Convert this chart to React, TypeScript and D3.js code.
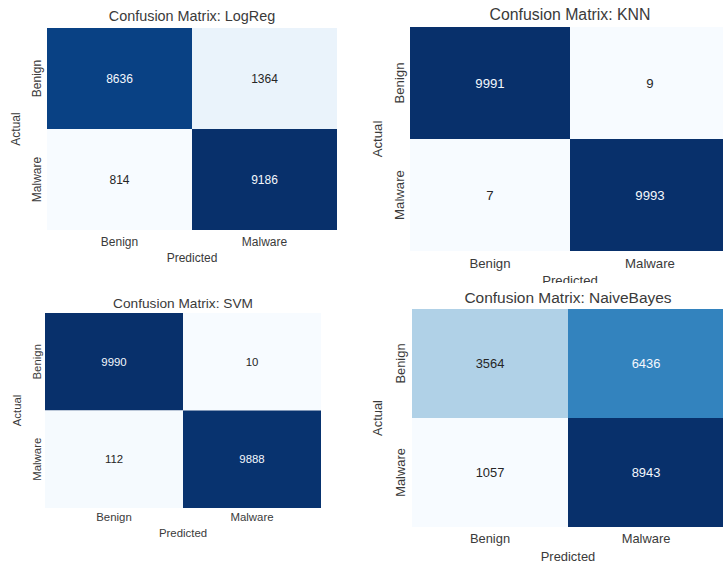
import React from "react";
import * as d3 from "d3";

const classLabels = ["Benign", "Malware"];
const modelNames = ["LogReg", "KNN", "SVM", "NaiveBayes"];
const logRegValues = [
  [8636, 1364],
  [814, 9186],
];
const knnValues = [
  [9991, 9],
  [7, 9993],
];
const svmValues = [
  [9990, 10],
  [112, 9888],
];
const naiveBayesValues = [
  [3564, 6436],
  [1057, 8943],
];
const allValues = [logRegValues, knnValues, svmValues, naiveBayesValues];

// layout of each panel (positions in px, font scale)
const layouts = [
  { x0: 47, x1: 337, y0: 28, y1: 230, titleY: 16, tickY: 242, xlabY: 258, rowX: 37, actX: 16, s: 1.2 },
  { x0: 410, x1: 730, y0: 27, y1: 251, titleY: 14, tickY: 263, xlabY: 280, rowX: 399, actX: 377, s: 1.32 },
  { x0: 45, x1: 321, y0: 313, y1: 508, titleY: 303, tickY: 517, xlabY: 533, rowX: 37, actX: 17, s: 1.14 },
  { x0: 412, x1: 724, y0: 309, y1: 527, titleY: 297, tickY: 538, xlabY: 556, rowX: 400, actX: 377, s: 1.29 },
];

const FONT = "'Liberation Sans', Arial, sans-serif";
const TEXT = "#3a3a3a";

function lum(c: string) {
  const rgb = d3.rgb(c);
  const f = (v: number) => {
    const x = v / 255;
    return x <= 0.03928 ? x / 12.92 : Math.pow((x + 0.055) / 1.055, 2.4);
  };
  return 0.2126 * f(rgb.r) + 0.7152 * f(rgb.g) + 0.0722 * f(rgb.b);
}

function Panel({ idx }: { idx: number }) {
  const L = layouts[idx];
  const vals = allValues[idx];
  const flat = vals.flat();
  const color = d3
    .scaleSequential(d3.interpolateBlues)
    .domain([d3.min(flat) as number, d3.max(flat) as number]);
  const x = d3.scaleBand<string>().domain(classLabels).range([L.x0, L.x1]);
  const y = d3.scaleBand<string>().domain(classLabels).range([L.y0, L.y1]);
  const cx = (L.x0 + L.x1) / 2;
  const cy = (L.y0 + L.y1) / 2;
  const s = L.s;
  return (
    <g fontFamily={FONT}>
      {classLabels.map((rl, i) =>
        classLabels.map((cl, j) => {
          const v = vals[i][j];
          const fill = color(v);
          const tc = lum(fill) > 0.408 ? "#262626" : "#f4f8fd";
          return (
            <g key={rl + cl}>
              <rect
                x={x(cl)}
                y={y(rl)}
                width={x.bandwidth()}
                height={y.bandwidth()}
                fill={fill}
              />
              <text
                x={(x(cl) as number) + x.bandwidth() / 2}
                y={(y(rl) as number) + y.bandwidth() / 2}
                textAnchor="middle"
                dominantBaseline="central"
                fontSize={10 * s}
                fill={tc}
              >
                {v}
              </text>
            </g>
          );
        })
      )}
      <text x={cx} y={L.titleY} textAnchor="middle" dominantBaseline="central" fontSize={12 * s} fill={TEXT}>
        {"Confusion Matrix: " + modelNames[idx]}
      </text>
      {classLabels.map((cl) => (
        <text
          key={"xt" + cl}
          x={(x(cl) as number) + x.bandwidth() / 2}
          y={L.tickY}
          textAnchor="middle"
          dominantBaseline="central"
          fontSize={10 * s}
          fill={TEXT}
        >
          {cl}
        </text>
      ))}
      {classLabels.map((rl) => {
        const yy = (y(rl) as number) + y.bandwidth() / 2;
        return (
          <text
            key={"yt" + rl}
            transform={`translate(${L.rowX},${yy}) rotate(-90)`}
            textAnchor="middle"
            dominantBaseline="central"
            fontSize={10 * s}
            fill={TEXT}
          >
            {rl}
          </text>
        );
      })}
      <text x={cx} y={L.xlabY} textAnchor="middle" dominantBaseline="central" fontSize={10 * s} fill={TEXT}>
        Predicted
      </text>
      <text
        transform={`translate(${L.actX},${cy}) rotate(-90)`}
        textAnchor="middle"
        dominantBaseline="central"
        fontSize={10 * s}
        fill={TEXT}
      >
        Actual
      </text>
    </g>
  );
}

export default function App() {
  return (
    <div style={{ position: "absolute", left: 0, top: 0 }}>
      <svg width={723} height={563} style={{ display: "block", background: "#ffffff" }}>
        <rect x={0} y={0} width={723} height={563} fill="#ffffff" />
        <Panel idx={0} />
        <Panel idx={1} />
        <rect x={362} y={283} width={361} height={280} fill="#ffffff" />
        <Panel idx={2} />
        <Panel idx={3} />
      </svg>
    </div>
  );
}
